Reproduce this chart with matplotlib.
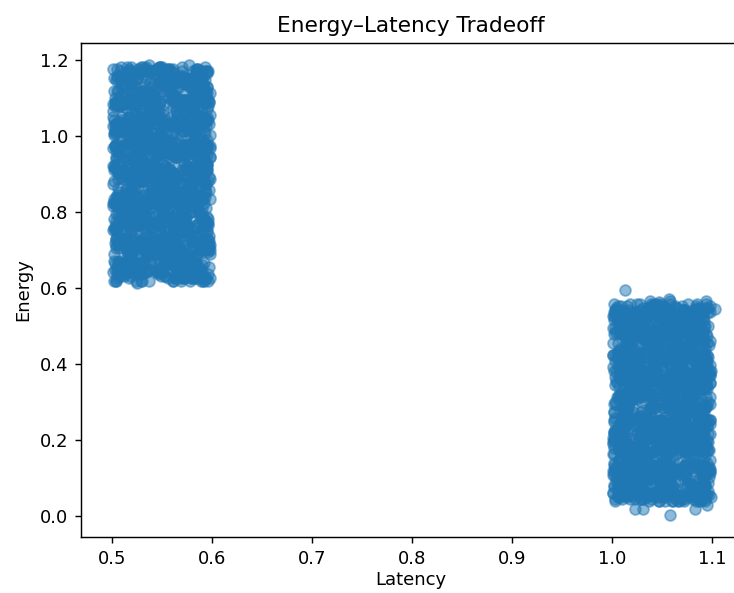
import numpy as np
import matplotlib

matplotlib.use("Agg")
import matplotlib.pyplot as plt

# Point positions, stored as 2-digit codes (00-99)
# across each cluster's extent: latency step 0.001, energy steps per cluster.
latency_a_codes = (
    "739150284617392804561937250846173950261849375028461935720418"
    "058246913778201569430865127934096158722305971864132097458613"
    "914375082663190847255032986417723065198440928376150693821574"
    "280619457331874096521469053782280743196957318046225094763189"
    "647023815992465108733820691547015398624771640293858412076395"
    "361894027556027319844791365082938461507229085736418053697214"
    "825047196310943862575318024697462195803368710524939267140858"
    "193768540227459031686042718395136074952881937206545189302767"
    "506312879464813597020975461238890352617403169528747628014953"
    "472985103618250647399137850426054816293775421038966390275184"
    "968421375005396218474852963071327509486116093781524407136928"
    "031657942889764201533069827145648293017552780419361925480376"
    "754208619343021958766401397582219850764398163502471876032519"
    "286970341517598463022793045186473612059884250916737510296483"
    "619345082794136725808624159037905738261442789530165031847260"
    "845732160958207941363158602794061429538723654081929576413082"
    "370189526412843096579540718326528360147906472519834268095731"
    "092564718351670238945816473029781593026484316057920147538692"
    "537916402868094517233079264851659420837115928673402893061547"
    "164083295743729650811645098237342871509669350712486470295813"
    "781352049626453187097923586104180649372558067149325016473928"
    "405798613150917462386281937045927315486033582409617754801269"
    "923640157887136904524507281963265048791340678123595382719046"
    "258417936030489572168136045927793621805474015389267619548203"
    "696071824359352816047780619354418957032626841970358253097481"
    "013589467242964301785349187620507183629481297630514806274539"
    "847206351964710859236018542739639524071858320496177471930625"
    "372941085617253618490692308457185370264919047562838924615097"
    "559813620478680427153243951768926045817332579164209160487352"
    "128465790323195784608571624039347812956057903286144735829016"
    "684037219559542036817920473581018956734286134702958384206753"
    "291758406136807215943447895162762340189573628051497019362854"
    "905326871442381590764863172905250687913448765923031647589120"
    "437190652887912643058035648271893152406716203497865258730491"
    "820473619554190837268145703962387061954249718025360631792845"
    "176395048221063479585938264017524817390638647150928470592136"
    "394058127668215790346027941586851630249783520476193912368057"
    "651982403730549826171743206598048962317525371890642286705319"
    "908736521442687103953569814270130274586967428315092059483716"
    "245861907337902465188314597603765318049212859074326841637295"
    "573120984696034851729762031854296145830739103568247734820961"
    "037269458183495670212598407316482709361555761028934920546178"
    "789541062319256837404135972680618357492027034896153865103742"
    "412807395656781024938870215349943062718564589213707048627593"
    "960382751437428165093409681725054827316992173650488596314820"
    "124679830595047239618652379408736591024831940582763317059264"
    "683154029778615940325281704963410925867346378014152573498106"
    "349805612464921587037950648231897463012570426918353108635479"
    "857092346121368750849314927605563184079285890347621492761038"
    "213548790636752019483068451972786903524117659830242671059385"
)

energy_a_codes = (
    "582036194728410957362913648205754820931667309518428176503942"
    "046719385210638294751782950436187349025893164078206521497638"
    "931452807664295018373409625817290576134852017463920968351724"
    "267084519346853729140625973148612043785993816205478734096215"
    "719358026483042196587950381467358917204626749381052281537096"
    "150927463897364815029148672053024658391779201548366903275418"
    "803645197220518937465367109482461095832735940627185412869350"
    "374816902555973420816819457230098362517441607839523574012689"
    "628193075411846207539025364791742519680384261975309246781503"
    "095472318696301859744753820169256847013938573014626180593247"
    "461209853772649130588296047531813405972615098247369735206184"
    "817536024924083697155604918372570928364143726091588413750926"
    "239680417359517246803971245860325761098486052938174052693781"
    "586023971440382519677128634095968430215709617450832624078519"
    "012847365987245063194381907526143278956030895162744796512830"
    "754396108261730482965049371682805619473352046817296237851064"
    "348159762003968527148617043295472108396781524039675560324918"
    "925704831672451396028853267104019863745226879310456148097263"
    "603281549715097864323146059827764150932849362158740792315486"
    "187462935048820135796920483617356892071467135904828405169732"
    "450917268339476205814378120956918234650072693418257063784195"
    "792538014866153748092415397680243067918534208651973687452901"
    "028165497354690872315269045813680591324778415036292519836047"
    "365849201787402319568837162954107426835961059287436948105372"
    "916273048515837460927302584196759318240623971405861274690853"
    "241096583778264153079460827315384702956196045832719850327614"
    "673850124929731086452149675038027589413557386920145313984726"
    "508427369112596847038785320461691234075842017693528976501348"
    "134769852063048215796527894103465913780290846371259042718635"
    "897035416245671309284063251978218407659313294856073685423109"
    "362581907484153972640912487635759246081376408129537150896472"
    "749206138553820694715698043217103685427962571438069827365091"
    "085374621906497138252731569840846927153015239604718391650287"
    "526918043767012845369354178026297561830448630572914463091758"
    "413790265858236401977160394825095137846229584173064387025619"
    "970254318636109845723846571902651820497334027165898549163072"
    "258641097315735290864017289536973456018247812093546162738409"
    "632079854129481516302674950813540192683786950348217027965341"
    "186925734054307862891393618745268734519020639471852875402196"
    "804517396261965240378742053618419063285751870629433540186927"
    "349863021796524178034208361759685021947384316572089961753284"
    "061238574950249705163876429105340698752113092817646793081452"
    "725490183648683120957053194862278351490636520974188157629038"
    "493716850212817569430641587290964083125779485631027326450819"
    "158064927399726341580589023674813209657446051398237980613745"
    "867521039424350896713216784503592748016381740269531609248571"
    "305942681789462137506473591028846532971052198463708142375960"
    "546187902337093654821905827346027810459369425706183681902437"
    "912375468040671829354584261970314659287213506829474269835106"
    "083649125776529041386237059814759362108448936751203514078693"
)

latency_b_codes = (
    "264917038545810376291738452960693274158010459823677236185094"
    "908351764223647901858152093467319806425775286135940481726503"
    "541726309887093462154296837015846251097332710584968963204718"
    "175048632950528197346470615928021739684559842073615308497261"
    "832695014762364810597821946053587402316190637258401649073852"
    "419087253634791528068053872149163850479227915340686592718034"
    "056382917491208647353617290485794136025868472910539240351876"
    "793240586127650983414908163752325947801653081495276817426309"
    "328574160993419725068245039186670218593443956208171584093627"
    "682913405718037462951576814390048365729106215873944239165780"
    "140659872335962481070731958246519473086287604312598760348195"
    "975208341660489137527023615489386950214752847690313418572906"
    "517836092484125709369854702361237084159628306947581092734658"
    "063491728556790246181362587904792641305873519208647647019382"
    "894120367521346795080639214857164308927645982731406385402917"
    "356780914207815329642480956173509827463114027685398729561043"
    "721453068944650182379018374526846159230798263450719063928574"
    "482069513710937546823795160284073526918465790123846514687203"
    "639827450186274091565243798016951780342521638470958270315469"
    "208315697463501867942867021593325068179484790536126958247310"
    "957462801336248157094102846735680413925763159284076431590827"
    "314709586229073614857539182046217956340898641027355806472193"
    "785036249171582930466028473519904285617312709658433197026548"
    "046591873258437026191374650829568193240745326901789523861470"
    "523178406949816354072791208365235470918666083174251746095382"
    "860924317502754819633518940726081629357483192607548270483915"
    "197350682844396027185046357291742810593629470861536394127806"
    "632847159016028593744869013578479356201827516439082608315947"
    "371065928487652140390237584169153047286954283617905841756029"
    "908412675339147806257592831640826715039413950274668137294580"
    "254738190662083971546615927038390276148575716083429972086413"
    "417690253801539684207148306592963402871587290316545520849671"
    "789253406113674859302381649075204867315940462198737046913528"
    "061384927557820416393697250148538915072646175829304895361702"
    "497628013584325709613860247591026493857172854069316938570241"
    "753014862920169487235498153076871520396434207958162157829304"
    "126498570357890236419573402689634089152751638490273620491857"
    "869305142713427658902016894357208563419984105237684394015726"
    "340782695158065413927625139870597129840362790513468852760319"
    "681947230545914326078307582641423708596189346725109716348052"
    "025863479116702859341849067312936215748065531846902593126847"
    "917240358633891064725162380945058497263131026578493274906158"
    "458129067395643712980735826104721356089847981243605608237419"
    "203576914882517934068291460735369480157216053891726841590362"
    "794618530247032815697460983157812765094339472068153125763908"
    "160354789625948607132538271409647091328585719342860972408153"
    "586092314708375941260813695427290536871444601857239317965024"
    "039871625494261089357046538912513627948170328691405783149267"
    "872435906151906372548624017395984701526323573084691659280371"
    "315960847286145293780391726458027839164572849610538248613790"
)

energy_b_codes = (
    "723105846919485027366037291854582640137947136502891814692057"
    "184639720557902814633725861490269403158778348061529463250718"
    "536287094142613759809810473625904157832631587290416275093841"
    "951470368273039526417246905183417682590359260814735832716409"
    "307815249664784102395563712809143520967826901735482798051326"
    "648092513780517364921319684250706293814543468019257915637480"
    "092761435816823907547894023561568317240929715342608053921764"
    "875349062133046285971052849637837641529046529170834624189053"
    "419536807228690413756487315902290857163475042863917760348215"
    "263048915777315928640628197534952036871408671504293381506972"
    "790413268545947160382135640879605741923817283965140149827356"
    "137962580414068253971790328451479120685334957016832802643197"
    "582716039460831597246351974206034685917225846392570687910534"
    "926385471033509274681817062593761294053848120573968423058716"
    "341870962589742031855263459178298506341770593846127956471082"
    "658209145317025683941049827365413973058682316907452529306847"
    "014653798256487931207398016542867145230997052168374173589620"
    "869132047595371605829526734081150362789543789254016308741295"
    "475928163008249358714065293716584031592786105739482642158903"
    "230597816442915076838741650923912457086329068412537095734168"
    "793016458231682947057214978635341289605476530894216781269354"
    "146854293979530418623598327014675920148363249157088537012496"
    "508269734184072365918632185479020368471924815063729264983710"
    "964731508257316892045071496823489017532690351729846813426057"
    "321587406949827541360893052716737852694101640359218495670381"
    "687024915335094167829456713908106543920875276012593058139746"
    "053491682770612893547320169584865209371416938426705729584103"
    "472816350908453267196185734290597382064158103695742346021879"
    "819350746221968032574904861372032716958437672481095180347265"
    "265749018386240591738547302916456908312794384526301967158420"
    "938160527443875216096069251843713498260551957203846502896713"
    "580427391667013489254182657039269531087426025847163851739642"
    "104896253738359710642763841905485067119325368941507214630598"
    "746318905215726048397416093285907283654184702136589638154027"
    "612490735838275136904567381290941602375879308415627384719025"
    "295038671417649812053721046358386159027460743298516037526849"
    "853716490262018365947385962104570834261992156704838769041235"
    "470852316993471028567148379625215697340381629053471541862907"
    "138649507225068724391920416837649352801756813279064296507318"
    "786201345951346809275457823016092476158333591628407873215940"
    "351907628404729361852031689547768520913469286041573409357612"
    "927364810586853402917676502398134618752027165893240658290174"
    "064583179320521837496289714065953047681592348670915163742589"
    "519247086373408615923512386704726831059451903248767482059316"
    "847320561999627058143030172489618704293565781350426286913450"
    "203695418760185726439865419027370256817498540136927547380621"
    "675412893031937480562108935674451820397626417893250912064738"
    "428076315948593162704756201843837569042115274608391381526904"
    "961238470526740391825394052761523016478982061975438734197052"
    "385601942719216547038621743958095834162764853029617059643281"
)

# Stray points along cluster B's top and bottom edges.
outlier_b_latency = [1.013, 1.038, 1.057, 1.058, 1.094, 1.103,
                     1.058, 1.083, 1.031, 1.003, 1.095, 1.023]
outlier_b_energy = [0.595, 0.568, 0.572, 0.566, 0.568, 0.547,
                    0.003, 0.021, 0.021, 0.042, 0.029, 0.020]

x_ticks = [0.5, 0.6, 0.7, 0.8, 0.9, 1.0, 1.1]
y_ticks = [0.0, 0.2, 0.4, 0.6, 0.8, 1.0, 1.2]


def _codes(s):
    return np.array([int(s[i:i + 2]) for i in range(0, len(s) - 1, 2)])


def _cluster(lat_codes, en_codes, lat_lo, en_lo, en_step):
    cx, cy = _codes(lat_codes), _codes(en_codes)
    n = min(len(cx), len(cy))
    return lat_lo + cx[:n] * 0.001, en_lo + cy[:n] * en_step


lat_a, en_a = _cluster(latency_a_codes, energy_a_codes, 0.500, 0.615, 0.0058)
lat_b, en_b = _cluster(latency_b_codes, energy_b_codes, 1.000, 0.035, 0.00535)
latency = np.concatenate([lat_a, lat_b, outlier_b_latency])
energy = np.concatenate([en_a, en_b, outlier_b_energy])

dpi = 130
fig = plt.figure(figsize=(734 / dpi, 593 / dpi), dpi=dpi)
# axes run past the right edge: the reference image is cropped there
ax = fig.add_axes([81 / 734, 56 / 593, 660 / 734, 494 / 593])
ax.spines["right"].set_visible(False)
ax.scatter(latency, energy, alpha=0.5)
ax.set_xlim(0.469, 1.129)
ax.set_ylim(-0.054, 1.246)
ax.set_xticks(x_ticks)
ax.set_yticks(y_ticks)
ax.set_xlabel("Latency", labelpad=2)
ax.set_ylabel("Energy")
ax.set_title("Energy\u2013Latency Tradeoff")
fig.savefig("out.png", dpi=dpi)
